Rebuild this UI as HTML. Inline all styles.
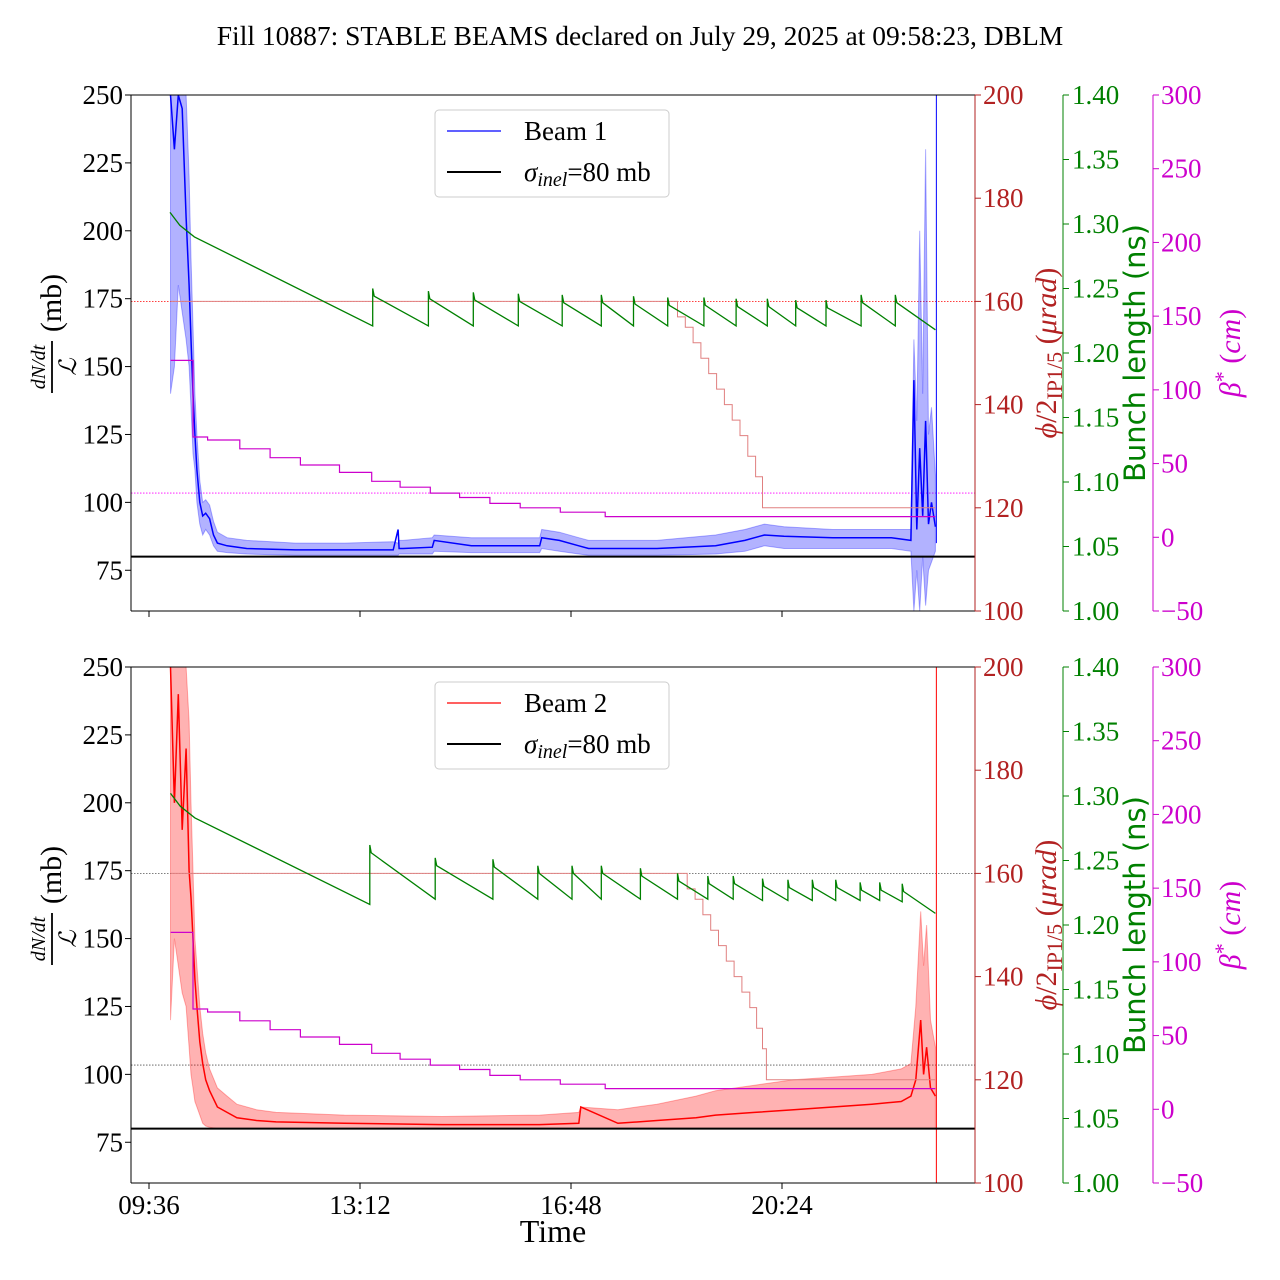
<!DOCTYPE html>
<html><head><meta charset="utf-8"><style>
html,body{margin:0;padding:0;background:#fff;}
svg{display:block;font-family:"Liberation Serif",serif;}
</style></head><body>
<svg id="chart" width="1280" height="1280" xmlns="http://www.w3.org/2000/svg">
<text x="640" y="45" font-size="27.5" text-anchor="middle">Fill 10887: STABLE BEAMS declared on July 29, 2025 at 09:58:23, DBLM</text>
<text x="553" y="1242" font-size="32" text-anchor="middle">Time</text>
</svg>
<script>
// ---- data (time in minutes after 09:36) ----
const xTickLabels = ["09:36","13:12","16:48","20:24"];
const xTickMinutes = [0,216,432,648];
const leftTicks = [75,100,125,150,175,200,225,250];
const redTicks = [100,120,140,160,180,200];
const greenTicks = [1.00,1.05,1.10,1.15,1.20,1.25,1.30,1.35,1.40];
const magTicks = [-50,0,50,100,150,200,250,300];

// Beam 1 luminosity-normalised rate (mb)
const b1Times = [22,26,30,34,38,41,43,45,47,49,52,55,58,62,66,70,80,100,150,200,250,255,256,260,290,292,330,400,402,420,440,450,520,580,610,630,650,700,760,780,783,786,789,792,795,798,801,805];
const b1Vals  = [250,230,250,245,205,180,160,140,125,112,100,95,96,94,88,85,84,83,82.5,82.5,82.5,90,83,83,83.5,86,84,84,87,86,84,83,83,84,86,88,87.5,87,87,86,145,90,120,95,130,92,100,91];
const b1Upper = [250,250,250,250,250,220,190,165,140,125,108,100,101,99,93,89,87,86,85,85,85.5,85,86,86,87,88,87,87,90,89,87,86,86,88,90,92,91,90,90,90,160,130,200,140,230,125,135,110];
const b1Lower = [140,150,180,170,160,150,135,118,112,100,92,88,90,88,84,82,81.5,81,80.5,80.5,80.5,80.5,81,81,81,82,81.5,81.5,83,82,81,80.5,80.5,81,82,84,83,83,83,82,60,75,60,80,62,75,78,82];
// Beam 2
const b2Times = [22,26,30,34,38,41,43,45,47,49,52,55,58,62,70,80,90,110,130,200,300,400,440,442,480,520,560,580,620,660,700,740,770,780,785,790,793,796,800,805];
const b2Vals  = [250,200,240,190,220,175,165,150,135,125,112,104,98,94,88,86,84,83,82.5,82,81.5,81.5,82,88,82,83,84,85,86,87,88,89,90,92,98,120,100,110,95,92];
const b2Upper = [250,250,250,250,250,230,200,175,150,140,125,115,108,102,95,92,89,87,86,85,84.5,85,86,88,87,89,92,94,96,98,99,100,102,104,125,160,140,155,120,110];
const b2Lower = [120,150,140,130,125,110,100,95,90,88,85,82,81,80.5,80,80,80,80,80,80,80,80,80,80,80,80,80,80,80,80,80,80,80,80,80,80,80,80,80,80];

const sigmaInel = 80;
// crossing angle (urad) step profile
const xingTimes = [22,533,541,549,557,565,573,581,589,597,605,613,621,628,805];
const xingVals  = [160,160,157,155,152,149,146,143,140,137,134,130,126,120,120];
const xingTimes2 = [22,543,551,559,567,575,583,591,599,607,615,622,628,632,805];
const xingRef = 160;
// beta* (cm) steps: start times and values
const betaTimes = [22,45,60,93,124,155,195,228,257,288,318,349,380,421,467,805];
const betaVals  = [120,68,66,60,54,49,44,38,34,30,27,23,20,17,14,14];
const betaRef = 30;
// bunch length sawtooth
const bl1Start = [21.5,1.309];
const bl1Refill = [229,286,332,378,423,463,496,531,568,601,633,662,693,729,764];
const bl1Peak   = [1.250,1.248,1.247,1.246,1.245,1.245,1.244,1.243,1.243,1.242,1.242,1.241,1.241,1.245,1.245];
const bl1Trough = [1.221,1.221,1.221,1.221,1.221,1.221,1.221,1.221,1.221,1.221,1.221,1.221,1.221,1.221,1.221,1.218];
const bl2Start = [22,1.302];
const bl2Refill = [226,293,352,398,433,463,503,541,572,598,628,654,679,703,728,748,771];
const bl2Peak   = [1.262,1.252,1.251,1.246,1.246,1.246,1.244,1.240,1.238,1.238,1.236,1.235,1.235,1.235,1.233,1.233,1.232];
const bl2Trough = [1.216,1.220,1.220,1.220,1.220,1.220,1.220,1.220,1.220,1.220,1.219,1.219,1.219,1.219,1.219,1.219,1.218,1.209];
const endTime = 805;

// ---- drawing ----
const NS="http://www.w3.org/2000/svg";
const svg=document.getElementById('chart');
const X0=131,X1=975;
const FS=27;
const xs=t=>149+t*211/216;
function el(tag,attrs,parent){const e=document.createElementNS(NS,tag);for(const k in attrs)e.setAttribute(k,attrs[k]);(parent||svg).appendChild(e);return e;}
function txt(s,attrs,parent){const e=el('text',attrs,parent);e.textContent=s;return e;}
function pathFrom(ts,vs,ys){return ts.map((t,i)=>(i?'L':'M')+xs(t).toFixed(1)+','+ys(vs[i]).toFixed(1)).join('');}
function stepPath(ts,vs,ys){let d='';for(let i=0;i<ts.length;i++){const x=xs(ts[i]).toFixed(1);if(i===0)d+='M'+x+','+ys(vs[0]).toFixed(1);else d+='L'+x+','+ys(vs[i-1]).toFixed(1)+'L'+x+','+ys(vs[i]).toFixed(1);}return d;}

function panel(idx,top,beam){
  const bot=top+516;
  const g=el('g',{},svg);
  
  
  const yL=v=>bot-(v-60)*516/190;
  const yR=v=>bot-(v-100)*516/100;
  const yG=v=>bot-(v-1.0)*516/0.4;
  const yM=v=>bot-(v+50)*516/350;
  const clipId='clip'+idx;
  const cp=el('clipPath',{id:clipId},g);el('rect',{x:X0,y:top,width:X1-X0,height:516},cp);
  const plot=el('g',{'clip-path':'url(#'+clipId+')'},g);
  
  
  const col=beam===1?'#0000ff':'#ff0000';
  const light=beam===1?'rgba(0,0,255,0.3)':'rgba(255,0,0,0.3)';
  const T=beam===1?b1Times:b2Times,V=beam===1?b1Vals:b2Vals,U=beam===1?b1Upper:b2Upper,Lo=beam===1?b1Lower:b2Lower;
  const refCol1=beam===1?'#ff0000':'#555';const refCol2=beam===1?'#ff00ff':'#555';
  const r1=el('line',{x1:X0,x2:X1,y1:yR(xingRef),y2:yR(xingRef),stroke:refCol1,'stroke-width':0.8,'stroke-dasharray':'1.5,1.5'},plot);
  
  
  const r2=el('line',{x1:X0,x2:X1,y1:yM(betaRef),y2:yM(betaRef),stroke:refCol2,'stroke-width':0.8,'stroke-dasharray':'1.5,1.5'},plot);
  
  
  let bd=T.map((t,i)=>(i?'L':'M')+xs(t).toFixed(1)+','+yL(U[i]).toFixed(1)).join('');
  for(let i=T.length-1;i>=0;i--)bd+='L'+xs(T[i]).toFixed(1)+','+yL(Lo[i]).toFixed(1);
  const band=el('path',{d:bd+'Z',fill:light,stroke:light,'stroke-width':1},plot);
  
  
  const ln=el('path',{d:pathFrom(T,V,yL),fill:'none',stroke:col,'stroke-width':1.5},plot);
  
  
  const endLine=el('line',{x1:xs(endTime)+1,x2:xs(endTime)+1,y1:top,y2:beam===1?yL(85):bot,stroke:col,'stroke-width':1},plot);
  
  
  const sl=el('line',{x1:X0,x2:X1,y1:yL(sigmaInel),y2:yL(sigmaInel),stroke:'#000','stroke-width':2},plot);
  
  
  const xt=beam===1?xingTimes:xingTimes2;
  const xp=el('path',{d:stepPath(xt,xingVals,yR),fill:'none',stroke:'#e08080','stroke-width':1},plot);
  
  
  const bp=el('path',{d:stepPath(betaTimes,betaVals,yM),fill:'none',stroke:'#cc00cc','stroke-width':1.2},plot);
  
  
  const st=beam===1?bl1Start:bl2Start,rf=beam===1?bl1Refill:bl2Refill,pk=beam===1?bl1Peak:bl2Peak,tr=beam===1?bl1Trough:bl2Trough;
  let d='M'+xs(st[0]).toFixed(1)+','+yG(st[1]).toFixed(1);
  d+='L'+xs(st[0]+10).toFixed(1)+','+yG(st[1]-0.010).toFixed(1);
  d+='L'+xs(st[0]+25).toFixed(1)+','+yG(st[1]-0.019).toFixed(1);
  for(let i=0;i<rf.length;i++){d+='L'+xs(rf[i]).toFixed(1)+','+yG(tr[i]).toFixed(1)+'L'+xs(rf[i]).toFixed(1)+','+yG(pk[i]).toFixed(1);
    d+='L'+xs(rf[i]+1.5).toFixed(1)+','+yG(pk[i]-0.006).toFixed(1);}
  d+='L'+xs(endTime).toFixed(1)+','+yG(tr[tr.length-1]).toFixed(1);
  const gp=el('path',{d:d,fill:'none',stroke:'#008000','stroke-width':1.3},plot);
  
  
  el('line',{x1:X0,x2:X0,y1:top,y2:bot,stroke:'#000','stroke-width':1},g);
  el('line',{x1:X0,x2:X1,y1:top,y2:top,stroke:'#000','stroke-width':1},g);
  el('line',{x1:X0,x2:X1,y1:bot,y2:bot,stroke:'#000','stroke-width':1},g);
  el('line',{x1:X1,x2:X1,y1:top,y2:bot,stroke:'#b22222','stroke-width':1},g);
  el('line',{x1:1063,x2:1063,y1:top,y2:bot,stroke:'#008000','stroke-width':1},g);
  el('line',{x1:1153,x2:1153,y1:top,y2:bot,stroke:'#cc00cc','stroke-width':1},g);
  leftTicks.forEach(v=>{const y=yL(v);el('line',{x1:X0-6,x2:X0,y1:y,y2:y,stroke:'#000'},g);
    const t=txt(String(v),{x:X0-8,y:y+9,'font-size':FS,'text-anchor':'end'},g);
    
    });
  redTicks.forEach(v=>{const y=yR(v);el('line',{x1:X1,x2:X1+6,y1:y,y2:y,stroke:'#b22222'},g);
    const t=txt(String(v),{x:X1+8,y:y+9,'font-size':FS,fill:'#b22222'},g);
    
    });
  greenTicks.forEach(v=>{const y=yG(v);el('line',{x1:1063,x2:1069,y1:y,y2:y,stroke:'#008000'},g);
    const t=txt(v.toFixed(2),{x:1072,y:y+9,'font-size':FS,fill:'#008000'},g);
    
    });
  magTicks.forEach(v=>{const y=yM(v);el('line',{x1:1153,x2:1159,y1:y,y2:y,stroke:'#cc00cc'},g);
    const t=txt(v<0?'\u2212'+(-v):String(v),{x:1161,y:y+9,'font-size':FS,fill:'#cc00cc'},g);
    
    });
  xTickMinutes.forEach((m,i)=>{const x=xs(m);el('line',{x1:x,x2:x,y1:bot,y2:bot+6,stroke:'#000'},g);
    if(idx===1){const t=txt(xTickLabels[i],{x:x,y:bot+31,'font-size':FS,'text-anchor':'middle'},g);
      
      }});
  const mid=(top+bot)/2;
  const lt=el('g',{transform:'translate(62,'+mid+') rotate(-90)'},g);
  
  
  txt('dN/dt',{x:-14,y:-17,'font-size':20,'font-style':'italic','text-anchor':'middle'},lt);
  el('line',{x1:-40,x2:12,y1:-10,y2:-10,stroke:'#000','stroke-width':1.8},lt);
  txt('\u2112',{x:-14,y:14,'font-size':24,'font-style':'italic','text-anchor':'middle'},lt);
  txt('(mb)',{x:50,y:-1,'font-size':30,'text-anchor':'middle'},lt);
  const rt=txt('',{transform:'translate(1056,'+mid+') rotate(-90)','font-size':30,fill:'#b22222','text-anchor':'middle'},g);
  rt.innerHTML='<tspan font-style="italic">\u03d5</tspan>/2<tspan font-size="22" dy="6">IP1/5</tspan><tspan dy="-6"> (</tspan><tspan font-style="italic">\u03bcrad</tspan>)';
  
  
  const gt=txt('Bunch length (ns)',{transform:'translate(1145,'+mid+') rotate(-90)','font-size':29,fill:'#008000','text-anchor':'middle',x:0,y:0,'font-family':'DejaVu Sans, sans-serif'},g);
  
  
  const mt=txt('',{transform:'translate(1240,'+mid+') rotate(-90)','font-size':30,fill:'#cc00cc','text-anchor':'middle'},g);
  mt.innerHTML='<tspan font-style="italic">\u03b2</tspan><tspan font-size="22" dy="-10">*</tspan><tspan dy="10"> (</tspan><tspan font-style="italic">cm</tspan>)';
  
  
  const lg=el('g',{},g);
  
  
  el('rect',{x:435,y:top+15,width:234,height:87,rx:4,fill:'#fff',stroke:'#ccc','stroke-width':1},lg);
  el('line',{x1:447,x2:501,y1:top+36,y2:top+36,stroke:col,'stroke-width':1.2},lg);
  txt('Beam '+beam,{x:524,y:top+45,'font-size':FS},lg);
  el('line',{x1:447,x2:501,y1:top+77,y2:top+77,stroke:'#000','stroke-width':2},lg);
  const s=txt('',{x:524,y:top+86,'font-size':FS},lg);
  s.innerHTML='<tspan font-style="italic">\u03c3</tspan><tspan font-style="italic" font-size="20" dy="5">inel</tspan><tspan dy="-5">=80 mb</tspan>';
}
panel(0,95,1);
panel(1,667,2);
</script>
</body></html>
